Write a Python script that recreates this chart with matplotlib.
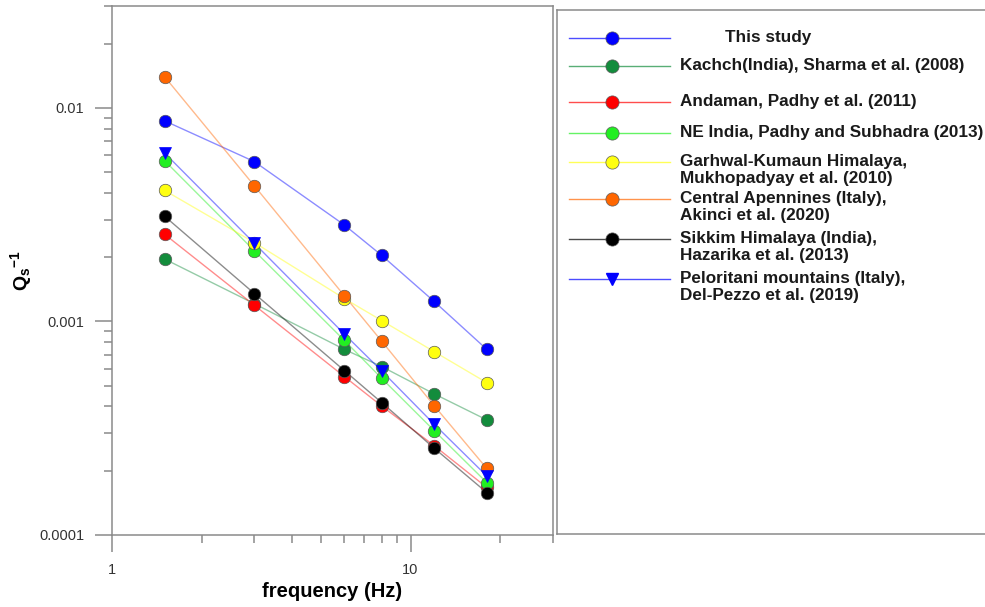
import matplotlib
matplotlib.use("Agg")
import matplotlib.pyplot as plt
from matplotlib import ticker
from matplotlib.lines import Line2D

plt.rcParams['font.family'] = ['Liberation Sans', 'DejaVu Sans']
plt.rcParams['mathtext.fontset'] = 'custom'
plt.rcParams['mathtext.rm'] = 'Liberation Sans:bold'
plt.rcParams['mathtext.it'] = 'Liberation Sans:bold'
plt.rcParams['mathtext.bf'] = 'Liberation Sans:bold'

# frequencies (Hz) and Qs^-1 estimates for each study
freq = [1.5, 3, 6, 8, 12, 18]

this_study = [0.0087, 0.0056, 0.00283, 0.00204, 0.00124, 0.00074]
kachch = [0.00196, 0.00121, 0.00074, 0.000615, 0.000458, 0.000346]
andaman = [0.00256, 0.00119, 0.000552, 0.000402, 0.000262, 0.000167]
ne_india = [0.00566, 0.00214, 0.000815, 0.000542, 0.000308, 0.000176]
garhwal = [0.00411, 0.00234, 0.00128, 0.00101, 0.000722, 0.000517]
apennines = [0.0140, 0.00431, 0.00132, 0.000809, 0.000403, 0.000205]
sikkim = [0.00311, 0.00135, 0.000589, 0.000417, 0.000255, 0.000158]
peloritani = [0.00615, 0.00232, 0.000873, 0.000587, 0.00033, 0.000189]

labels = [
    "This study",
    "Kachch(India), Sharma et al. (2008)",
    "Andaman, Padhy et al. (2011)",
    "NE India, Padhy and Subhadra (2013)",
    "Garhwal-Kumaun Himalaya,\nMukhopadyay et al. (2010)",
    "Central Apennines (Italy),\nAkinci et al. (2020)",
    "Sikkim Himalaya (India),\nHazarika et al. (2013)",
    "Peloritani mountains (Italy),\nDel-Pezzo et al. (2019)",
]
series = [this_study, kachch, andaman, ne_india, garhwal, apennines, sikkim, peloritani]
colors = ['#0000ff', '#138c3c', '#ff0000', '#22ee22', '#ffff10', '#ff6600', '#000000', '#0000ff']
markers = ['o', 'o', 'o', 'o', 'o', 'o', 'o', 'v']

fig = plt.figure(figsize=(9.85, 6.07), dpi=100)
ax = fig.add_axes([112 / 985, 1 - 535 / 607, 441 / 985, 529 / 607])

grey = '#8a8a8a'
for vals, c, m in zip(series, colors, markers):
    ax.plot(freq, vals, color=c, lw=1.0, alpha=0.45, zorder=2)
    if m == 'o':
        ax.plot(freq, vals, ls='none', marker='o', ms=9, mfc=c, mec='#5a5a5a',
                mew=0.5, zorder=3)
    else:
        ax.plot(freq, vals, ls='none', marker='v', ms=8, mfc=c, mec=c,
                mew=0.5, zorder=4)

ax.set_xscale('log')
ax.set_yscale('log')
ax.set_xlim(1, 30)
ax.set_ylim(1e-4, 0.03)

fmt = ticker.FuncFormatter(lambda v, p: f'{v:g}')
ax.xaxis.set_major_locator(ticker.LogLocator(base=10))
ax.yaxis.set_major_locator(ticker.LogLocator(base=10))
ax.xaxis.set_major_formatter(fmt)
ax.yaxis.set_major_formatter(fmt)
ax.xaxis.set_minor_formatter(ticker.NullFormatter())
ax.yaxis.set_minor_formatter(ticker.NullFormatter())

ax.tick_params(which='major', direction='out', length=12, width=1.1, color=grey,
               labelsize=10.5, labelcolor='#333333', pad=8)
ax.tick_params(which='minor', direction='out', length=6, width=1.1, color=grey)
for s in ax.spines.values():
    s.set_color(grey)
    s.set_linewidth(1.1)

ax.set_xlabel('frequency (Hz)', fontsize=14.5, fontweight='bold', labelpad=4)
ax.set_ylabel(r'Q$_\mathrm{s}$$^\mathrm{-1}$', fontsize=14, fontweight='bold')
ax.yaxis.set_label_coords(-0.177, 0.5)

# legend panel to the right of the plot
lax = fig.add_axes([557 / 985, 1 - 534 / 607, 440 / 985, 524 / 607])
lax.set_xlim(0, 440)
lax.set_ylim(524, 0)
lax.set_xticks([])
lax.set_yticks([])
for s in lax.spines.values():
    s.set_color(grey)
    s.set_linewidth(1.1)
lax.spines['right'].set_visible(False)
lax.patch.set_alpha(0)

row_y = [28, 56, 92, 123, 152, 189, 229, 269]
for lab, c, m, y in zip(labels, colors, markers, row_y):
    lax.add_line(Line2D([12, 113], [y, y], color=c, lw=1.0, alpha=0.7))
    if m == 'o':
        lax.add_line(Line2D([55], [y], ls='none', marker='o', ms=9.5, mfc=c,
                            mec='#5a5a5a', mew=0.5))
    else:
        lax.add_line(Line2D([55], [y], ls='none', marker='v', ms=8.5, mfc=c, mec=c))
    tx = 168 if lab == "This study" else 123
    lax.text(tx, y - 8, lab, fontsize=12.3, fontweight='bold', color='#1a1a1a',
             va='top', ha='left', linespacing=1.2)

fig.savefig('out.png', dpi=100)
